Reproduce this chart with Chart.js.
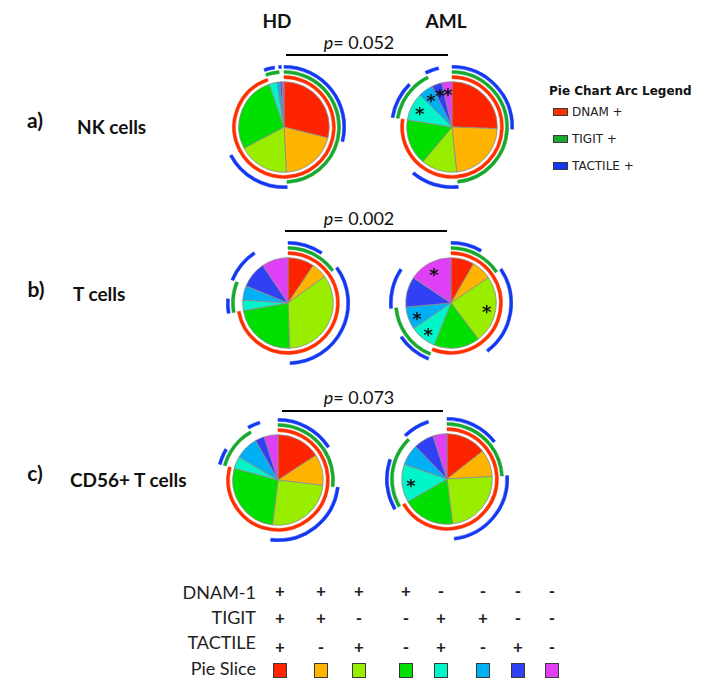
<!DOCTYPE html>
<html>
<head>
<meta charset="utf-8">
<script src="https://cdn.jsdelivr.net/npm/chart.js@4.4.0/dist/chart.umd.min.js"></script>
<style>
  body { margin: 0; background: #fff; width: 718px; height: 693px; position: relative; overflow: hidden; font-family: Lato, "Open Sans", sans-serif; color: #111; }
  .t { position: absolute; white-space: nowrap; line-height: 1; }
  .pie { position: absolute; width: 124px; height: 124px; }
  .sq { position: absolute; box-sizing: border-box; border: 1.5px solid #3a3a3a; }
  .hr { position: absolute; height: 2px; background: #000; }
</style>
</head>
<body>
<canvas id="nkHD" class="pie" width="124" height="124" style="left:222px;top:65px"></canvas>
<canvas id="nkAML" class="pie" width="124" height="124" style="left:390px;top:65px"></canvas>
<canvas id="tHD" class="pie" width="124" height="124" style="left:226px;top:241px"></canvas>
<canvas id="tAML" class="pie" width="124" height="124" style="left:389px;top:241px"></canvas>
<canvas id="cdHD" class="pie" width="124" height="124" style="left:216px;top:418px"></canvas>
<canvas id="cdAML" class="pie" width="124" height="124" style="left:385px;top:417px"></canvas>

<script>
// slice order, clockwise from 12 o'clock
const sliceLabels = ['DNAM+TIGIT+TACTILE+', 'DNAM+TIGIT+TACTILE-', 'DNAM+TIGIT-TACTILE+', 'DNAM+TIGIT-TACTILE-',
                     'DNAM-TIGIT+TACTILE+', 'DNAM-TIGIT+TACTILE-', 'DNAM-TIGIT-TACTILE+', 'DNAM-TIGIT-TACTILE-'];
const dnamRow    = ['+', '+', '+', '+', '-', '-', '-', '-'];
const tigitRow   = ['+', '+', '-', '-', '+', '+', '-', '-'];
const tactileRow = ['+', '-', '+', '-', '+', '-', '+', '-'];
const rowNames = ['DNAM-1', 'TIGIT', 'TACTILE', 'Pie Slice'];

// percent of cells per slice
const nkHD    = [28.9, 20.3, 18.1, 27.5, 2.8, 1.1, 0.7, 0.7];
const nkAML   = [25.6, 22.8, 12.8, 16.4, 10.0, 5.3, 3.6, 3.6];
const tHD     = [9.4, 5.6, 34.4, 22.8, 3.8, 5.1, 9.4, 9.4];
const tAML    = [8.3, 7.2, 24.2, 16.4, 9.4, 8.1, 10.8, 15.6];
const cdHD    = [15.8, 11.1, 25.0, 27.2, 4.3, 8.3, 3.3, 4.9];
const cdAML   = [14.4, 9.7, 23.9, 18.6, 13.6, 7.5, 7.2, 5.0];

// asterisks (significant slices)
const noStars      = [0, 0, 0, 0, 0, 0, 0, 0];
const nkAMLStars   = [0, 0, 0, 0, 1, 1, 1, 1];
const tAMLStars    = [0, 0, 1, 0, 1, 1, 0, 1];
const cdAMLStars   = [0, 0, 0, 0, 1, 0, 0, 0];

const groups = ['HD', 'AML'];
const panelTags = ['a)', 'b)', 'c)'];
const cellTypes = ['NK cells', 'T cells', 'CD56+ T cells'];
const pValues = ['0.052', '0.002', '0.073'];
const arcLegend = ['DNAM +', 'TIGIT +', 'TACTILE +'];

const sliceColors = ['#ff2400', '#ffb400', '#99ee00', '#00e000', '#00f5c8', '#00b0f5', '#3040f5', '#e040f5'];
const arcColors = ['#ff3000', '#17a82e', '#1438f2'];

function put(html, x, y, style, ax) {
  const d = document.createElement('div');
  d.className = 't';
  d.innerHTML = html;
  d.style.cssText = 'left:' + x + 'px;top:' + y + 'px;' + (style || '');
  d.style.transform = 'translate(' + (ax === undefined ? -50 : ax) + '%,-50%)';
  document.body.appendChild(d);
  return d;
}

function ring(values, row, color) {
  const cols = row.map(s => s === '+' ? color : 'rgba(0,0,0,0)');
  return { data: values, weight: 3, backgroundColor: cols, borderColor: cols, borderWidth: 0.5 };
}
function spacer(values, w) {
  return { data: values, weight: w, backgroundColor: 'rgba(0,0,0,0)', borderWidth: 0 };
}

const starPlugin = {
  id: 'stars',
  afterDatasetsDraw(chart, args, opts) {
    const meta = chart.getDatasetMeta(chart.data.datasets.length - 1);
    const ctx = chart.ctx;
    ctx.save();
    ctx.fillStyle = '#111';
    ctx.font = 'bold 18px "DejaVu Sans"';
    ctx.textAlign = 'center';
    ctx.textBaseline = 'alphabetic';
    meta.data.forEach((arc, i) => {
      if (!opts.flags[i]) return;
      const p = arc.getProps(['x', 'y', 'startAngle', 'endAngle', 'outerRadius'], true);
      const mid = (p.startAngle + p.endAngle) / 2;
      const r = p.outerRadius * 0.8;
      ctx.fillText('*', p.x + Math.cos(mid) * r, p.y + Math.sin(mid) * r + 9.5);
    });
    ctx.restore();
  }
};

function createpie(id, values, stars) {
  "use strict";
  const config = {
    type: 'doughnut',
    data: {
      labels: sliceLabels,
      datasets: [
        ring(values, tactileRow, arcColors[2]),
        spacer(values, 2),
        ring(values, tigitRow, arcColors[1]),
        spacer(values, 2),
        ring(values, dnamRow, arcColors[0]),
        spacer(values, 3),
        { data: values, weight: 44, backgroundColor: sliceColors, borderColor: '#8c8c8c', borderWidth: 0.8 }
      ]
    },
    options: {
      responsive: false,
      animation: false,
      cutout: 0,
      events: [],
      plugins: {
        legend: { display: false },
        tooltip: { enabled: false },
        stars: { flags: stars }
      }
    },
    plugins: [starPlugin]
  };
  return new Chart(document.getElementById(id), config);
}

createpie('nkHD', nkHD, noStars);
createpie('nkAML', nkAML, nkAMLStars);
createpie('tHD', tHD, noStars);
createpie('tAML', tAML, tAMLStars);
createpie('cdHD', cdHD, noStars);
createpie('cdAML', cdAML, cdAMLStars);

// column headers
put(groups[0], 277, 20, 'font-weight:700;font-size:19px');
put(groups[1], 446, 20, 'font-weight:700;font-size:19px');

// p-value brackets
const pY = [42, 218, 397];
const lineY = [54, 230, 410];
const lineX = [[286, 448], [285, 447], [282, 443]];
pValues.forEach((p, i) => {
  put('<i>p</i>= ' + p, 359, pY[i], 'font-size:18px');
  const l = document.createElement('div');
  l.className = 'hr';
  l.style.left = lineX[i][0] + 'px';
  l.style.top = lineY[i] + 'px';
  l.style.width = (lineX[i][1] - lineX[i][0]) + 'px';
  document.body.appendChild(l);
});

// row labels
const tagPos = [[35, 119], [36, 288], [35, 472]];
const namePos = [[77, 126], [73, 293], [70, 479]];
panelTags.forEach((t, i) => {
  put(t, tagPos[i][0], tagPos[i][1], 'font-weight:700;font-size:21px');
  put(cellTypes[i], namePos[i][0], namePos[i][1], 'font-weight:700;font-size:19px', 0);
});

// arc legend
put('Pie Chart Arc Legend', 549, 91, 'font-family:"DejaVu Sans",sans-serif;font-weight:700;font-size:12px', 0);
const legY = [112, 139, 166];
arcLegend.forEach((name, i) => {
  const s = document.createElement('div');
  s.className = 'sq';
  s.style.cssText = 'left:553px;top:' + (legY[i] - 4) + 'px;width:15px;height:8px;border-width:1px;background:' + arcColors[i];
  document.body.appendChild(s);
  put(name, 572, legY[i], 'font-family:"DejaVu Sans",sans-serif;font-size:12px;color:#222', 0);
});

// slice key table
const colX = [280, 321, 359, 406, 441, 483, 518, 552];
const rowY = [592, 617, 642, 668];
const symY = [590, 617, 646];
rowNames.forEach((n, i) => put(n, 256, rowY[i], 'font-size:18px;color:#222', -100));
[dnamRow, tigitRow, tactileRow].forEach((row, r) => {
  row.forEach((s, c) => put(s === '+' ? '+' : '-', colX[c], symY[r], 'font-weight:700;font-size:17px;color:#222'));
});
sliceColors.forEach((col, c) => {
  const s = document.createElement('div');
  s.className = 'sq';
  s.style.cssText = 'left:' + (colX[c] - 7) + 'px;top:663px;width:14px;height:15px;background:' + col;
  document.body.appendChild(s);
});
</script>
</body>
</html>
